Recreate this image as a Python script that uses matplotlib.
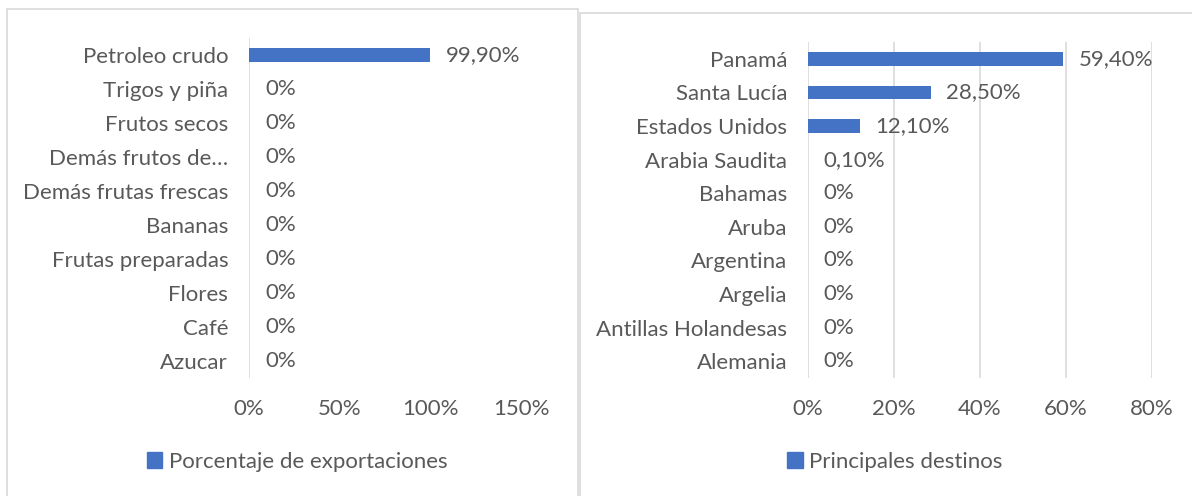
import matplotlib
matplotlib.use("Agg")
import matplotlib.pyplot as plt
from matplotlib.patches import Rectangle, Patch

plt.rcParams['font.family'] = ['Lato', 'DejaVu Sans']

prod_labels = ["Petroleo crudo", "Trigos y piña", "Frutos secos", "Demás frutos de…",
               "Demás frutas frescas", "Bananas", "Frutas preparadas", "Flores", "Café", "Azucar"]
prod_values = [99.9, 0, 0, 0, 0, 0, 0, 0, 0, 0]
prod_text = ["99,90%", "0%", "0%", "0%", "0%", "0%", "0%", "0%", "0%", "0%"]
prod_ticks = [0, 50, 100, 150]

dest_labels = ["Panamá", "Santa Lucía", "Estados Unidos", "Arabia Saudita", "Bahamas",
               "Aruba", "Argentina", "Argelia", "Antillas Holandesas", "Alemania"]
dest_values = [59.4, 28.5, 12.1, 0.1, 0, 0, 0, 0, 0, 0]
dest_text = ["59,40%", "28,50%", "12,10%", "0,10%", "0%", "0%", "0%", "0%", "0%", "0%"]
dest_ticks = [0, 20, 40, 60, 80]

BAR = "#4472C4"
TXT = "#595959"
GRID = "#D9D9D9"
FS = 16

W, H = 1192, 496
fig = plt.figure(figsize=(W / 100, H / 100), dpi=100)

# panel borders
fig.patches.append(Rectangle((7 / W, -0.1), (578 - 7) / W, 1.1 - 9 / H, transform=fig.transFigure,
                             fill=False, edgecolor=GRID, linewidth=1.2))
fig.patches.append(Rectangle((580 / W, -0.1), (1200 - 580) / W, 1.1 - 13 / H, transform=fig.transFigure,
                             fill=False, edgecolor=GRID, linewidth=1.2))


def panel(rect, labels, values, texts, ticks, grid, legend_label, legend_x, pad_px):
    ax = fig.add_axes(rect)
    y = list(range(len(labels)))
    ax.barh(y, values, height=0.4, color=BAR)
    ax.set_ylim(len(labels) - 0.5, -0.5)
    ax.set_xlim(ticks[0], ticks[-1])
    ax.set_yticks(y)
    ax.set_yticklabels(labels, fontsize=FS, color=TXT)
    ax.set_xticks(ticks)
    ax.set_xticklabels([f"{t}%" for t in ticks], fontsize=FS, color=TXT)
    ax.tick_params(axis='y', length=0, pad=15)
    ax.tick_params(axis='x', length=0, pad=15)
    for s in ax.spines.values():
        s.set_visible(False)
    if grid:
        ax.set_axisbelow(True)
        ax.xaxis.grid(True, color=GRID, linewidth=1.2)
    else:
        ax.axvline(0, color=GRID, linewidth=1.2, zorder=0)
    span = ticks[-1] - ticks[0]
    axw = rect[2] * W
    for yi, v, t in zip(y, values, texts):
        ax.text(v + pad_px * span / axw, yi, t, va='center', ha='left', fontsize=FS, color=TXT)
    fig.legend(handles=[Patch(color=BAR, label=legend_label)], loc='center',
               bbox_to_anchor=(legend_x / W, 1 - 462 / H), frameon=False, fontsize=FS,
               handlelength=0.7, handleheight=0.7, handletextpad=0.3, labelcolor=TXT)
    return ax


panel([249 / W, 1 - 378 / H, (521 - 249) / W, 340 / H], prod_labels, prod_values, prod_text,
      prod_ticks, False, "Porcentaje de exportaciones", 297, 16)
panel([808 / W, 1 - 378 / H, (1152 - 808) / W, 336 / H], dest_labels, dest_values, dest_text,
      dest_ticks, True, "Principales destinos", 895, 15)

fig.savefig("out.png", dpi=100)
